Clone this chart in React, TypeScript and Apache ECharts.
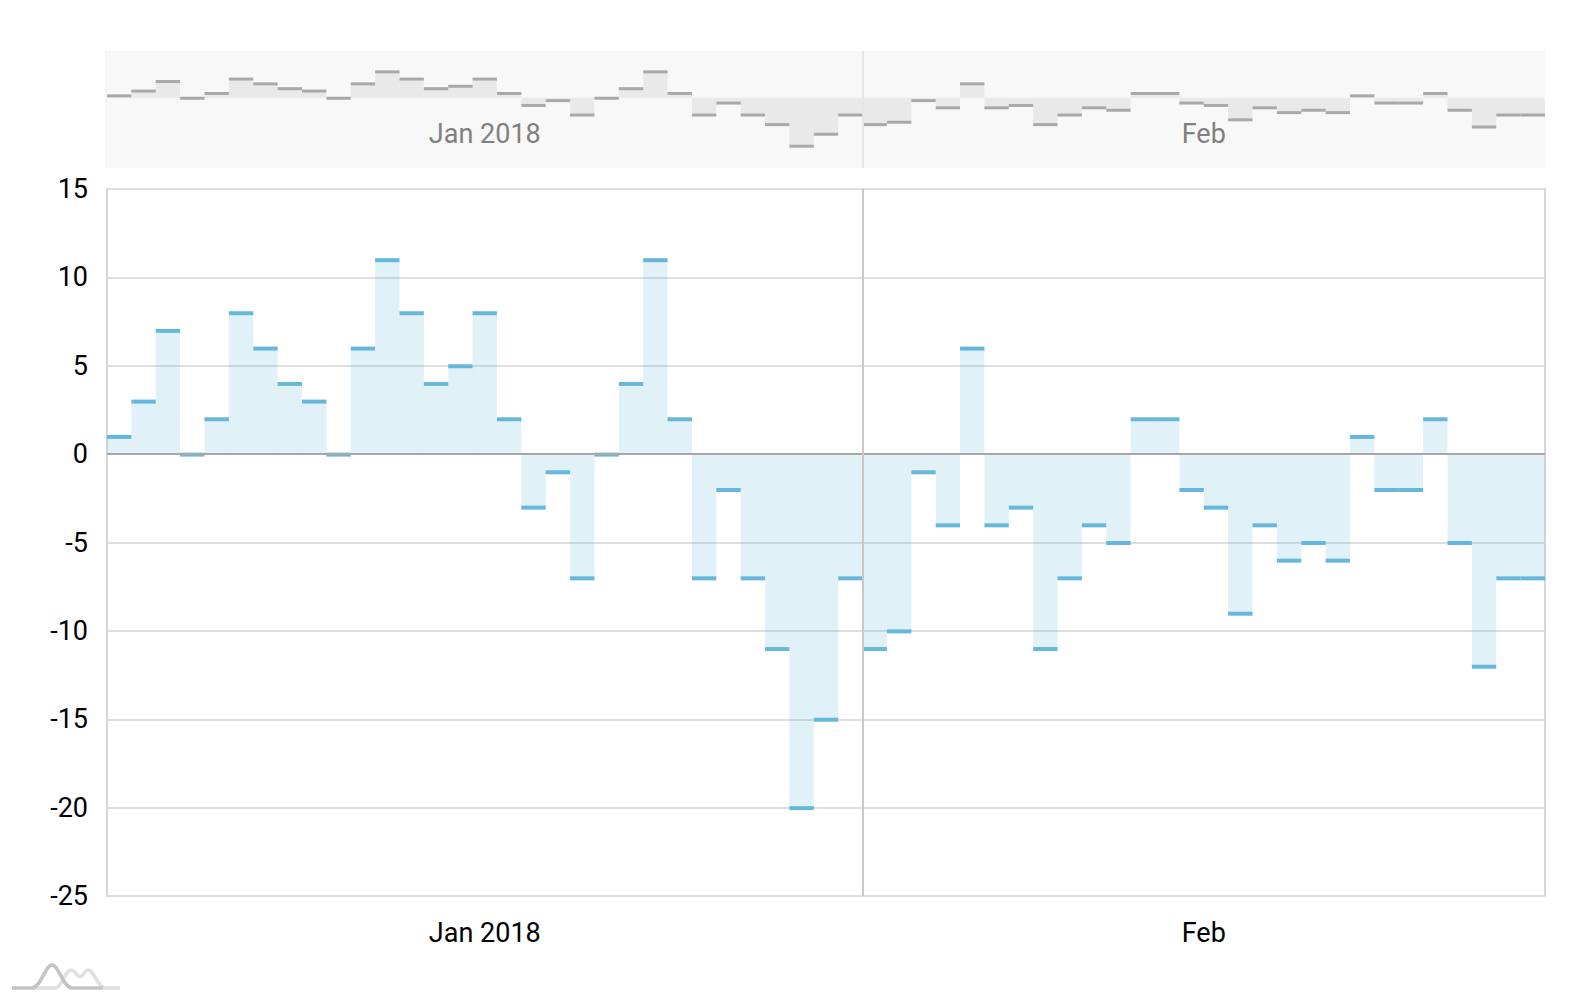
import React, { useEffect, useRef } from "react";
import * as echarts from "echarts";

// ---- data ----
const dates = [
  "2018-01-01", "2018-01-02", "2018-01-03", "2018-01-04", "2018-01-05", "2018-01-06", "2018-01-07",
  "2018-01-08", "2018-01-09", "2018-01-10", "2018-01-11", "2018-01-12", "2018-01-13", "2018-01-14",
  "2018-01-15", "2018-01-16", "2018-01-17", "2018-01-18", "2018-01-19", "2018-01-20", "2018-01-21",
  "2018-01-22", "2018-01-23", "2018-01-24", "2018-01-25", "2018-01-26", "2018-01-27", "2018-01-28",
  "2018-01-29", "2018-01-30", "2018-01-31",
  "2018-02-01", "2018-02-02", "2018-02-03", "2018-02-04", "2018-02-05", "2018-02-06", "2018-02-07",
  "2018-02-08", "2018-02-09", "2018-02-10", "2018-02-11", "2018-02-12", "2018-02-13", "2018-02-14",
  "2018-02-15", "2018-02-16", "2018-02-17", "2018-02-18", "2018-02-19", "2018-02-20", "2018-02-21",
  "2018-02-22", "2018-02-23", "2018-02-24", "2018-02-25", "2018-02-26", "2018-02-27", "2018-02-28",
];

const values = [
  1, 3, 7, 0, 2, 8, 6, 4, 3, 0,
  6, 11, 8, 4, 5, 8, 2, -3, -1, -7,
  0, 4, 11, 2, -7, -2, -7, -11, -20, -15,
  -7,
  -11, -10, -1, -4, 6, -4, -3, -11, -7, -4,
  -5, 2, 2, -2, -3, -9, -4, -6, -5, -6,
  1, -2, -2, 2, -5, -12, -7, -7,
];

// month labels sit at the middle of each month (in day offsets from Jan 1)
const monthLabels = ["Jan 2018", "Feb"];
const monthLabelPos = [15.5, 45];
const monthStart = "2018-02-01";

const yMin = -25;
const yMax = 15;
const yStep = 5;

// ---- logo shapes ----
echarts.graphic.registerShape(
  "amLogoLight",
  echarts.graphic.extendPath(
    "M33,988 L55,988 C62,988 65,970 71,970 C75,970 77,977 80,977 C83,977 85,970 88,970 C94,970 98,988 105,988 L120,988",
    {}
  )
);
echarts.graphic.registerShape(
  "amLogoDark",
  echarts.graphic.extendPath(
    "M12,988 L32,988 C41,988 45,965 52,965 C59,965 63,988 72,988 L103,988",
    {}
  )
);

const FONT = "Roboto, 'Noto Sans', sans-serif";

function makeRender(fill: string, stroke: string, lw: number) {
  return (params: any, api: any) => {
    const i = api.value(0);
    const v = api.value(1);
    const a = api.coord([i, 0]);
    const b = api.coord([i + 1, v]);
    return {
      type: "group",
      children: [
        {
          type: "rect",
          shape: {
            x: a[0],
            y: Math.min(a[1], b[1]),
            width: b[0] - a[0],
            height: Math.abs(b[1] - a[1]),
          },
          style: { fill },
        },
        {
          type: "line",
          shape: { x1: a[0], y1: b[1] + 0.5, x2: b[0], y2: b[1] + 0.5 },
          style: { stroke, lineWidth: lw },
        },
      ],
    };
  };
}

const labelFormatter = (val: number) => {
  const k = monthLabelPos.findIndex((p) => Math.abs(p - val) < 1e-6);
  return k >= 0 ? monthLabels[k] : "";
};

export default function App() {
  const ref = useRef<HTMLDivElement>(null);

  useEffect(() => {
    if (!ref.current) return;
    const chart = echarts.init(ref.current, undefined, { renderer: "svg" });
    const seriesData = values.map((v, i) => [i, v]);
    const febIdx = dates.indexOf(monthStart);

    const option: any = {
      animation: false,
      textStyle: { fontFamily: FONT },
      grid: [
        {
          left: 107,
          top: 189,
          width: 1438,
          height: 707,
          show: true,
          borderColor: "#d6d6d6",
          borderWidth: 2,
          backgroundColor: "transparent",
        },
        {
          left: 107,
          top: 51,
          width: 1438,
          height: 117,
          show: true,
          borderWidth: 0,
          backgroundColor: "#f8f8f8",
        },
      ],
      xAxis: [
        {
          gridIndex: 0,
          type: "value",
          min: 0,
          max: dates.length,
          interval: 0.5,
          position: "bottom",
          axisLine: { show: false },
          axisTick: { show: false },
          splitLine: { show: false },
          axisLabel: {
            formatter: labelFormatter,
            fontSize: 27,
            color: "#000",
            margin: 23,
            fontFamily: FONT,
          },
        },
        {
          gridIndex: 1,
          type: "value",
          min: 0,
          max: dates.length,
          interval: 0.5,
          position: "bottom",
          axisLine: { show: false },
          axisTick: { show: false },
          splitLine: { show: false },
          axisLabel: {
            inside: true,
            formatter: labelFormatter,
            fontSize: 27,
            color: "#808080",
            margin: 21,
            fontFamily: FONT,
          },
        },
      ],
      yAxis: [
        {
          gridIndex: 0,
          type: "value",
          min: yMin,
          max: yMax,
          interval: yStep,
          axisLine: { show: false },
          axisTick: { show: false },
          splitLine: { lineStyle: { color: "#dedede", width: 2 } },
          axisLabel: { fontSize: 27, color: "#000", margin: 19, fontFamily: FONT },
        },
        {
          gridIndex: 1,
          type: "value",
          min: -29.3,
          max: 19.5,
          show: false,
          splitLine: { show: false },
        },
      ],
      series: [
        {
          type: "custom",
          xAxisIndex: 0,
          yAxisIndex: 0,
          data: seriesData,
          encode: { x: 0, y: 1 },
          renderItem: makeRender("rgba(103,183,220,0.2)", "#67b7dc", 4),
          markLine: {
            silent: true,
            symbol: "none",
            label: { show: false },
            data: [
              { yAxis: 0, lineStyle: { color: "#a8a8a8", width: 2, type: "solid" } },
              { xAxis: febIdx, lineStyle: { color: "#c8c8c8", width: 2, type: "solid" } },
            ],
          },
        },
        {
          type: "custom",
          xAxisIndex: 1,
          yAxisIndex: 1,
          data: seriesData,
          encode: { x: 0, y: 1 },
          renderItem: makeRender("rgba(0,0,0,0.06)", "#a9a9a9", 3),
          markLine: {
            silent: true,
            symbol: "none",
            label: { show: false },
            data: [
              { xAxis: febIdx, lineStyle: { color: "#e6e6e6", width: 2, type: "solid" } },
            ],
          },
        },
      ],
      graphic: [
        {
          type: "line",
          shape: { x1: 106, y1: 51, x2: 106, y2: 168 },
          style: { stroke: "#ededed", lineWidth: 1 },
          silent: true,
        },
        {
          type: "amLogoLight",
          style: { stroke: "#e0e0e0", lineWidth: 3.5, fill: "none" },
          silent: true,
        },
        {
          type: "amLogoDark",
          style: { stroke: "#c4c4c4", lineWidth: 3.5, fill: "none" },
          silent: true,
        },
      ],
    };

    chart.setOption(option);
    return () => chart.dispose();
  }, []);

  return (
    <div
      ref={ref}
      style={{ position: "absolute", left: 0, top: 0, width: 1586, height: 1000, background: "#fff" }}
    />
  );
}
